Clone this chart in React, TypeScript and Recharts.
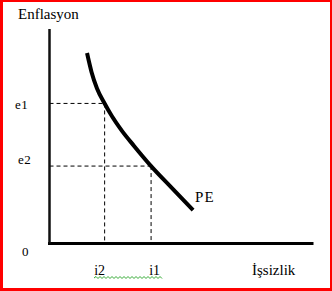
import React from 'react';
import { LineChart, Line, XAxis, YAxis, ReferenceLine, LabelList } from 'recharts';

// Phillips curve (PE): unemployment on x, inflation on y, both 0-100 scale
const unemployment = [14.3, 16.0, 18.1, 21.0, 23.8, 27.6, 32.2, 38.7, 46.3, 54.7];
const inflation = [88.8, 80.0, 72.3, 65.3, 59.3, 52.5, 45.5, 36.1, 26.3, 15.6];

const inflationTicks = [0, 36.1, 65.3];
const inflationTickLabels = ['0', 'e2', 'e1'];
const unemploymentTicks = [21.0, 38.7];
const unemploymentTickLabels = ['i2', 'i1'];

const curveLabel = 'PE';
const yTitle = 'Enflasyon';
const xTitle = 'İşsizlik';

const data = unemployment.map((u, i) => ({ unemployment: u, inflation: inflation[i] }));

const SERIF = '"Liberation Serif", "Times New Roman", serif';

// where each tick label sits relative to its tick
const yTickStyle: Record<string, { x: number; dy: number }> = {
  '0': { x: 22, dy: 12.5 },
  e2: { x: 18, dy: -2 },
  e1: { x: 15, dy: 5.5 },
};
const xTickDx: Record<string, number> = { i2: -5, i1: 3.5 };

const YTick = (props: any) => {
  const idx = inflationTicks.indexOf(props.payload.value);
  const label = inflationTickLabels[idx] ?? '';
  const s = yTickStyle[label] ?? { x: 15, dy: 0 };
  return (
    <text x={s.x} y={props.y + s.dy} fontFamily={SERIF} fontSize={13} letterSpacing={0.5} fill="#000">
      {label}
    </text>
  );
};

const XTick = (props: any) => {
  const idx = unemploymentTicks.indexOf(props.payload.value);
  const label = unemploymentTickLabels[idx] ?? '';
  return (
    <text
      x={props.x + (xTickDx[label] ?? 0)}
      y={275}
      textAnchor="middle"
      fontFamily={SERIF}
      fontSize={14}
      fill="#000"
    >
      {label}
    </text>
  );
};

const EndLabel = (props: any) => {
  if (props.index !== data.length - 1) return null;
  return (
    <text x={props.x + 2} y={props.y - 8} fontFamily={SERIF} fontSize={15} letterSpacing={1} fill="#000">
      {curveLabel}
    </text>
  );
};

// spell-check squiggle under the x tick labels
const squiggle = (() => {
  let d = 'M94 278';
  for (let x = 96, up = true; x <= 162; x += 2, up = !up) d += ` L${x} ${up ? 276.5 : 278.5}`;
  return d;
})();

export default function App() {
  const [i2, i1] = unemploymentTicks;
  const e2 = inflationTicks[1];
  const e1 = inflationTicks[2];
  const dash = { stroke: '#000', strokeWidth: 1, strokeDasharray: '4 3' };

  return (
    <div style={{ position: 'absolute', left: 0, top: 0, width: 332, height: 291, background: '#fff' }}>
      <LineChart
        width={332}
        height={291}
        data={data}
        margin={{ top: 29, right: 20, left: 0, bottom: 0 }}
      >
        <XAxis
          dataKey="unemployment"
          type="number"
          domain={[0, 100]}
          allowDataOverflow
          ticks={unemploymentTicks}
          interval={0}
          height={47.5}
          tickLine={false}
          axisLine={{ stroke: '#000', strokeWidth: 3, strokeLinecap: 'square' }}
          tick={<XTick />}
        />
        <YAxis
          type="number"
          domain={[0, 100]}
          allowDataOverflow
          ticks={inflationTicks}
          interval={0}
          width={49.5}
          tickLine={false}
          axisLine={{ stroke: '#111', strokeWidth: 2.5 }}
          tick={<YTick />}
        />
        <ReferenceLine segment={[{ x: 0, y: e1 }, { x: i2, y: e1 }]} {...dash} />
        <ReferenceLine segment={[{ x: i2, y: e1 }, { x: i2, y: 0 }]} {...dash} />
        <ReferenceLine segment={[{ x: 0, y: e2 }, { x: i1, y: e2 }]} {...dash} />
        <ReferenceLine segment={[{ x: i1, y: e2 }, { x: i1, y: 0 }]} {...dash} />
        <Line
          type="monotone"
          dataKey="inflation"
          stroke="#000"
          strokeWidth={4}
          dot={false}
          isAnimationActive={false}
        >
          <LabelList dataKey="inflation" content={<EndLabel />} />
        </Line>
      </LineChart>
      <svg
        width={332}
        height={291}
        style={{ position: 'absolute', left: 0, top: 0, pointerEvents: 'none' }}
      >
        <text x={18} y={19} fontFamily={SERIF} fontSize={15} fill="#000">
          {yTitle}
        </text>
        <text x={252} y={275} fontFamily={SERIF} fontSize={15} fill="#000">
          {xTitle}
        </text>
        <path d={squiggle} fill="none" stroke="#3a3" strokeWidth={1} />
      </svg>
      <div
        style={{
          position: 'absolute',
          left: 0,
          top: 0,
          width: 332,
          height: 291,
          boxSizing: 'border-box',
          borderStyle: 'solid',
          borderColor: '#f00',
          borderWidth: '2px 2px 3px 3px',
          pointerEvents: 'none',
        }}
      />
    </div>
  );
}
